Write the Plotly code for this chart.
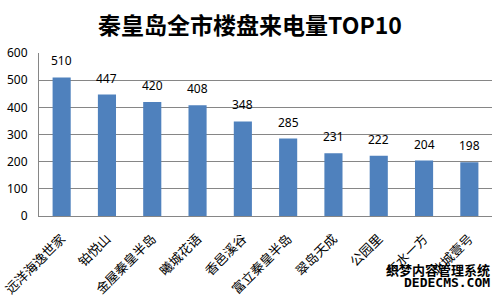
import plotly.graph_objects as go

categories = ["远洋海逸世家", "铂悦山", "金屋秦皇半岛", "曦城花语", "香邑溪谷",
              "富立秦皇半岛", "翠岛天成", "公园里", "在水一方", "北城壹号"]
values = [510, 447, 420, 408, 348, 285, 231, 222, 204, 198]
title_text = "秦皇岛全市楼盘来电量TOP10"

fig = go.Figure()
fig.add_trace(go.Bar(
    x=categories, y=values,
    marker=dict(color="#4F81BD", line=dict(width=0)),
    width=0.4,
))
for c, v in zip(categories, values):
    fig.add_annotation(x=c, y=v, text=str(v), showarrow=False, yanchor="bottom",
                       yshift=6, font=dict(family="Noto Sans, sans-serif", size=12, color="#000000"))

fig.update_layout(
    width=500, height=300,
    margin=dict(l=39, r=8, t=53, b=84, autoexpand=False),
    paper_bgcolor="white", plot_bgcolor="white",
    showlegend=False,
    title=dict(text="<b>" + title_text + "</b>", x=0.5, xanchor="center",
               y=0.915, yanchor="middle",
               font=dict(family="Noto Sans CJK SC, sans-serif", size=23, color="#000000")),
    bargap=0.6,
)
fig.update_yaxes(range=[0, 600], dtick=100, showgrid=True, gridcolor="#868686", gridwidth=1,
                 showline=True, linecolor="#868686", linewidth=1, zeroline=False,
                 ticks="outside", ticklen=8, tickcolor="rgba(0,0,0,0)", automargin=False,
                 tickfont=dict(family="Noto Sans, sans-serif", size=12, color="#000000"))
fig.update_xaxes(showline=True, linecolor="#868686", linewidth=1, tickangle=-45,
                 ticks="outside", ticklen=9, tickcolor="rgba(0,0,0,0)", showgrid=False,
                 automargin=False,
                 tickfont=dict(family="Noto Sans CJK SC, sans-serif", size=13, color="#000000"))

fig.add_annotation(text="<b>织梦内容管理系统</b>", xref="paper", yref="paper",
                   x=1.0, y=-0.33, xanchor="right", yanchor="middle", showarrow=False,
                   font=dict(family="Noto Sans CJK SC, sans-serif", size=13, color="#000000"))
fig.add_annotation(text="<b>DEDECMS.COM</b>", xref="paper", yref="paper",
                   x=1.0, y=-0.41, xanchor="right", yanchor="middle", showarrow=False,
                   font=dict(family="DejaVu Sans Mono, monospace", size=13, color="#000000"))

fig.write_html("out.html")
